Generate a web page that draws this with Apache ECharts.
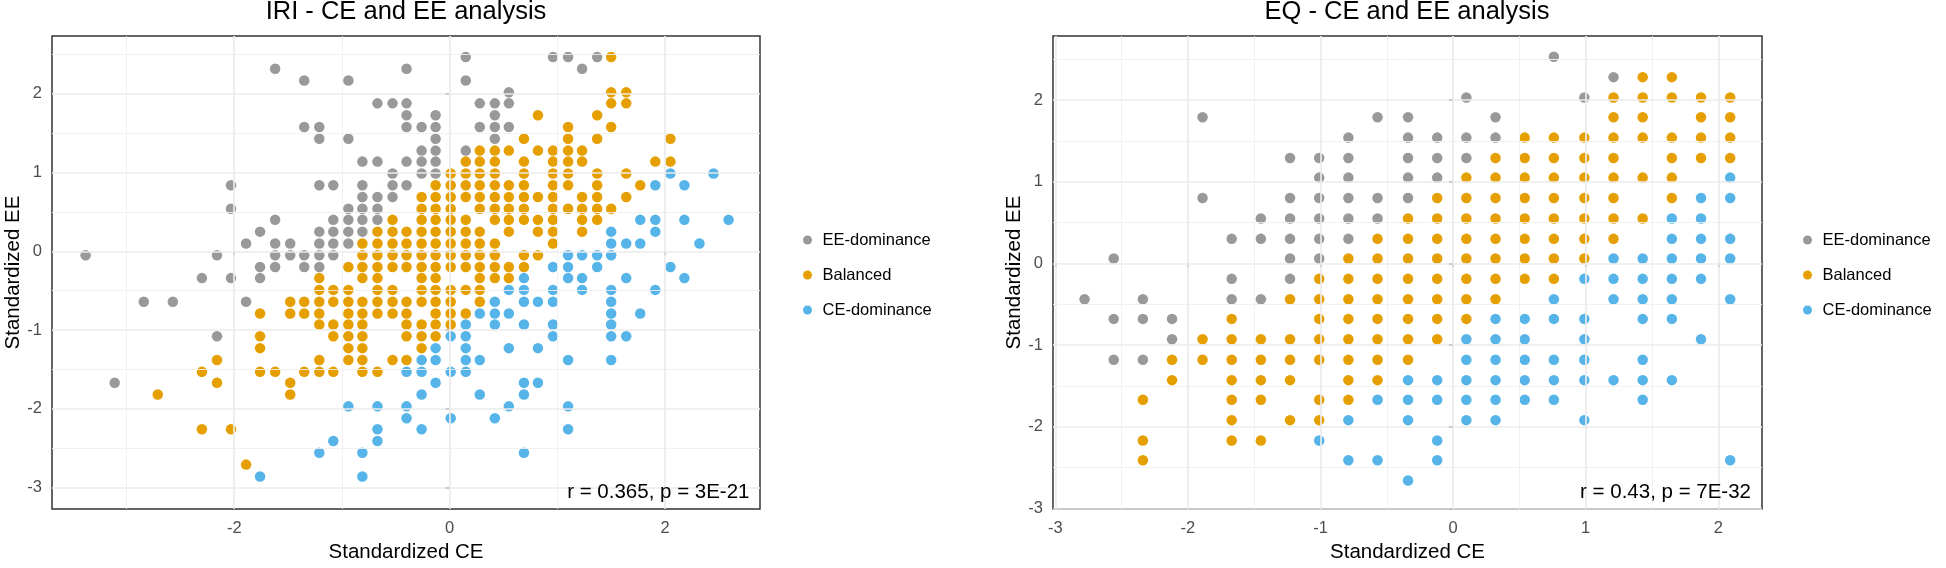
<!DOCTYPE html>
<html><head><meta charset="utf-8">
<script src="https://cdn.jsdelivr.net/npm/echarts@6/dist/echarts.min.js"></script>
<style>html,body{margin:0;padding:0;background:#fff}#c{width:1946px;height:568px}</style>
</head><body><div id="c"></div>
<script>
const FONT = '"Liberation Sans", Arial, Helvetica, sans-serif';
const classNames = ['EE-dominance', 'Balanced', 'CE-dominance'];
const classColors = ['#999999', '#E69F00', '#56B4E9'];
const panelTitles = ['IRI - CE and EE analysis', 'EQ - CE and EE analysis'];
const corrLabels = ['r = 0.365, p = 3E-21', 'r = 0.43, p = 7E-32'];
const xTitle = 'Standardized CE';
const yTitle = 'Standardized EE';

// IRI panel
const iriEE = [
[0.15,2.47],[0.96,2.47],[1.10,2.47],[1.37,2.47],
[-1.62,2.32],[-0.40,2.32],[1.23,2.32],
[-1.35,2.17],[-0.94,2.17],[0.15,2.17],
[0.55,2.02],
[-0.67,1.88],[-0.53,1.88],[-0.40,1.88],[0.28,1.88],[0.42,1.88],[0.55,1.88],
[-0.40,1.73],[-0.13,1.73],[0.42,1.73],
[-1.35,1.58],[-1.21,1.58],[-0.40,1.58],[-0.26,1.58],[-0.13,1.58],[0.28,1.58],[0.42,1.58],[0.55,1.58],
[-1.21,1.43],[-0.94,1.43],[-0.13,1.43],[0.42,1.43],
[-0.26,1.28],[-0.13,1.28],[0.15,1.28],
[-0.81,1.14],[-0.67,1.14],[-0.40,1.14],[-0.26,1.14],[-0.13,1.14],
[-0.53,0.99],[-0.26,0.99],[-0.13,0.99],
[-2.03,0.84],[-1.21,0.84],[-1.08,0.84],[-0.81,0.84],[-0.53,0.84],[-0.40,0.84],
[-0.81,0.69],[-0.67,0.69],[-0.53,0.69],
[-2.03,0.54],[-0.94,0.54],[-0.81,0.54],[-0.67,0.54],
[-1.62,0.40],[-1.08,0.40],[-0.94,0.40],[-0.81,0.40],[-0.67,0.40],
[-1.76,0.25],[-1.21,0.25],[-1.08,0.25],[-0.94,0.25],[-0.81,0.25],
[-1.89,0.10],[-1.62,0.10],[-1.48,0.10],[-1.21,0.10],[-1.08,0.10],[-0.94,0.10],
[-3.38,-0.05],[-2.16,-0.05],[-1.62,-0.05],[-1.48,-0.05],[-1.35,-0.05],[-1.21,-0.05],[-1.08,-0.05],
[-1.76,-0.20],[-1.62,-0.20],[-1.35,-0.20],[-1.21,-0.20],
[-2.30,-0.34],[-2.03,-0.34],[-1.76,-0.34],
[-2.84,-0.64],[-2.57,-0.64],[-1.89,-0.64],
[-2.16,-1.08],
[-3.11,-1.67]
];
const iriBal = [
[1.50,2.47],
[1.50,2.02],[1.64,2.02],
[1.50,1.88],[1.64,1.88],
[0.82,1.73],[1.37,1.73],
[1.10,1.58],[1.50,1.58],
[0.69,1.43],[1.10,1.43],[1.37,1.43],[2.05,1.43],
[0.28,1.28],[0.42,1.28],[0.55,1.28],[0.82,1.28],[0.96,1.28],[1.10,1.28],[1.23,1.28],
[0.15,1.14],[0.28,1.14],[0.42,1.14],[0.69,1.14],[0.96,1.14],[1.10,1.14],[1.23,1.14],[1.91,1.14],[2.05,1.14],
[0.01,0.99],[0.15,0.99],[0.28,0.99],[0.42,0.99],[0.69,0.99],[0.96,0.99],[1.10,0.99],[1.37,0.99],[1.64,0.99],
[-0.13,0.84],[0.01,0.84],[0.15,0.84],[0.28,0.84],[0.42,0.84],[0.55,0.84],[0.69,0.84],[0.96,0.84],[1.10,0.84],[1.37,0.84],[1.77,0.84],
[-0.26,0.69],[-0.13,0.69],[0.01,0.69],[0.15,0.69],[0.28,0.69],[0.42,0.69],[0.55,0.69],[0.69,0.69],[0.82,0.69],[0.96,0.69],[1.23,0.69],[1.37,0.69],[1.64,0.69],
[-0.26,0.54],[-0.13,0.54],[0.01,0.54],[0.28,0.54],[0.42,0.54],[0.55,0.54],[0.69,0.54],[0.96,0.54],[1.10,0.54],[1.23,0.54],[1.37,0.54],[1.50,0.54],
[-0.53,0.40],[-0.26,0.40],[-0.13,0.40],[0.01,0.40],[0.15,0.40],[0.42,0.40],[0.55,0.40],[0.69,0.40],[0.82,0.40],[0.96,0.40],[1.23,0.40],[1.37,0.40],
[-0.67,0.25],[-0.53,0.25],[-0.40,0.25],[-0.26,0.25],[-0.13,0.25],[0.01,0.25],[0.15,0.25],[0.28,0.25],[0.55,0.25],[0.82,0.25],[0.96,0.25],[1.23,0.25],
[-0.81,0.10],[-0.67,0.10],[-0.53,0.10],[-0.40,0.10],[-0.26,0.10],[-0.13,0.10],[0.01,0.10],[0.15,0.10],[0.28,0.10],[0.42,0.10],[0.96,0.10],
[-0.81,-0.05],[-0.67,-0.05],[-0.53,-0.05],[-0.40,-0.05],[-0.26,-0.05],[-0.13,-0.05],[0.01,-0.05],[0.15,-0.05],[0.28,-0.05],[0.42,-0.05],[0.69,-0.05],[0.82,-0.05],
[-0.94,-0.20],[-0.81,-0.20],[-0.67,-0.20],[-0.53,-0.20],[-0.40,-0.20],[-0.26,-0.20],[-0.13,-0.20],[0.01,-0.20],[0.15,-0.20],[0.28,-0.20],[0.42,-0.20],[0.55,-0.20],[0.69,-0.20],
[-1.21,-0.34],[-0.81,-0.34],[-0.67,-0.34],[-0.26,-0.34],[-0.13,-0.34],[0.28,-0.34],[0.42,-0.34],[0.55,-0.34],
[-1.21,-0.49],[-1.08,-0.49],[-0.94,-0.49],[-0.67,-0.49],[-0.53,-0.49],[-0.26,-0.49],[-0.13,-0.49],[0.01,-0.49],[0.15,-0.49],[0.28,-0.49],
[-1.48,-0.64],[-1.35,-0.64],[-1.21,-0.64],[-1.08,-0.64],[-0.94,-0.64],[-0.81,-0.64],[-0.67,-0.64],[-0.53,-0.64],[-0.40,-0.64],[-0.26,-0.64],[-0.13,-0.64],[0.01,-0.64],[0.28,-0.64],
[-1.76,-0.79],[-1.48,-0.79],[-1.35,-0.79],[-1.21,-0.79],[-0.94,-0.79],[-0.81,-0.79],[-0.67,-0.79],[-0.53,-0.79],[-0.40,-0.79],[-0.13,-0.79],[0.01,-0.79],[0.15,-0.79],
[-1.21,-0.93],[-1.08,-0.93],[-0.94,-0.93],[-0.81,-0.93],[-0.40,-0.93],[-0.26,-0.93],[-0.13,-0.93],[0.01,-0.93],
[-1.76,-1.08],[-1.08,-1.08],[-0.94,-1.08],[-0.81,-1.08],[-0.40,-1.08],[-0.26,-1.08],[-0.13,-1.08],
[-1.76,-1.23],[-0.94,-1.23],[-0.81,-1.23],[-0.26,-1.23],
[-2.16,-1.38],[-1.21,-1.38],[-0.94,-1.38],[-0.81,-1.38],[-0.53,-1.38],[-0.40,-1.38],
[-2.30,-1.53],[-1.76,-1.53],[-1.62,-1.53],[-1.35,-1.53],[-1.21,-1.53],[-1.08,-1.53],[-0.81,-1.53],[-0.67,-1.53],
[-2.16,-1.67],[-1.48,-1.67],
[-2.71,-1.82],[-1.48,-1.82],
[-2.30,-2.26],[-2.03,-2.26],
[-1.89,-2.71]
];
const iriCE = [
[2.05,0.99],[2.45,0.99],
[1.91,0.84],[2.18,0.84],
[1.77,0.40],[1.91,0.40],[2.18,0.40],[2.59,0.40],
[1.50,0.25],[1.91,0.25],
[1.50,0.10],[1.64,0.10],[1.77,0.10],[2.32,0.10],
[1.10,-0.05],[1.23,-0.05],[1.37,-0.05],[1.50,-0.05],
[0.96,-0.20],[1.10,-0.20],[1.37,-0.20],[2.05,-0.20],
[0.69,-0.34],[1.10,-0.34],[1.23,-0.34],[1.64,-0.34],[2.18,-0.34],
[0.55,-0.49],[0.69,-0.49],[0.96,-0.49],[1.23,-0.49],[1.50,-0.49],[1.91,-0.49],
[0.42,-0.64],[0.69,-0.64],[0.82,-0.64],[0.96,-0.64],[1.50,-0.64],
[0.28,-0.79],[0.42,-0.79],[0.55,-0.79],[1.50,-0.79],[1.77,-0.79],
[0.15,-0.93],[0.42,-0.93],[0.69,-0.93],[0.96,-0.93],[1.50,-0.93],
[0.01,-1.08],[0.15,-1.08],[0.96,-1.08],[1.50,-1.08],[1.64,-1.08],
[-0.13,-1.23],[0.15,-1.23],[0.55,-1.23],[0.82,-1.23],
[-0.26,-1.38],[-0.13,-1.38],[0.15,-1.38],[0.28,-1.38],[1.10,-1.38],[1.50,-1.38],
[-0.40,-1.53],[-0.26,-1.53],[0.01,-1.53],[0.15,-1.53],
[-0.13,-1.67],[0.69,-1.67],[0.82,-1.67],
[-0.26,-1.82],[0.28,-1.82],[0.69,-1.82],
[-0.94,-1.97],[-0.67,-1.97],[-0.40,-1.97],[0.55,-1.97],[1.10,-1.97],
[-0.40,-2.12],[0.01,-2.12],[0.42,-2.12],
[-0.67,-2.26],[-0.26,-2.26],[1.10,-2.26],
[-1.08,-2.41],[-0.67,-2.41],
[-1.21,-2.56],[-0.81,-2.56],[0.69,-2.56],
[-1.76,-2.86],[-0.81,-2.86]
];

// EQ panel
const eqEE = [
[0.76,2.53],
[1.21,2.28],
[0.10,2.03],[0.99,2.03],
[-1.89,1.79],[-0.57,1.79],[-0.34,1.79],[0.32,1.79],
[-0.79,1.54],[-0.34,1.54],[-0.12,1.54],[0.10,1.54],[0.32,1.54],
[-1.23,1.29],[-1.01,1.29],[-0.79,1.29],[-0.34,1.29],[-0.12,1.29],[0.10,1.29],
[-1.01,1.05],[-0.79,1.05],[-0.34,1.05],[-0.12,1.05],
[-1.89,0.80],[-1.23,0.80],[-1.01,0.80],[-0.79,0.80],[-0.57,0.80],[-0.34,0.80],
[-1.45,0.55],[-1.23,0.55],[-1.01,0.55],[-0.79,0.55],[-0.57,0.55],
[-1.67,0.30],[-1.45,0.30],[-1.23,0.30],[-1.01,0.30],[-0.79,0.30],
[-2.56,0.06],[-1.23,0.06],[-1.01,0.06],
[-1.67,-0.19],[-1.23,-0.19],
[-2.78,-0.44],[-2.34,-0.44],[-1.67,-0.44],[-1.45,-0.44],
[-2.56,-0.68],[-2.34,-0.68],[-2.12,-0.68],
[-2.12,-0.93],
[-2.56,-1.18],[-2.34,-1.18]
];
const eqBal = [
[1.43,2.28],[1.65,2.28],
[1.21,2.03],[1.43,2.03],[1.65,2.03],[1.87,2.03],[2.09,2.03],
[1.21,1.79],[1.43,1.79],[1.87,1.79],[2.09,1.79],
[0.54,1.54],[0.76,1.54],[0.99,1.54],[1.21,1.54],[1.43,1.54],[1.65,1.54],[1.87,1.54],[2.09,1.54],
[0.32,1.29],[0.54,1.29],[0.76,1.29],[0.99,1.29],[1.21,1.29],[1.65,1.29],[1.87,1.29],[2.09,1.29],
[0.10,1.05],[0.32,1.05],[0.54,1.05],[0.76,1.05],[0.99,1.05],[1.21,1.05],[1.43,1.05],[1.65,1.05],
[-0.12,0.80],[0.10,0.80],[0.32,0.80],[0.54,0.80],[0.76,0.80],[0.99,0.80],[1.21,0.80],[1.65,0.80],
[-0.34,0.55],[-0.12,0.55],[0.10,0.55],[0.32,0.55],[0.54,0.55],[0.76,0.55],[0.99,0.55],[1.21,0.55],[1.43,0.55],
[-0.57,0.30],[-0.34,0.30],[-0.12,0.30],[0.10,0.30],[0.32,0.30],[0.54,0.30],[0.76,0.30],[0.99,0.30],[1.21,0.30],
[-0.79,0.06],[-0.57,0.06],[-0.34,0.06],[-0.12,0.06],[0.10,0.06],[0.32,0.06],[0.54,0.06],[0.76,0.06],[0.99,0.06],
[-1.01,-0.19],[-0.79,-0.19],[-0.57,-0.19],[-0.34,-0.19],[-0.12,-0.19],[0.10,-0.19],[0.32,-0.19],[0.54,-0.19],[0.76,-0.19],
[-1.23,-0.44],[-1.01,-0.44],[-0.79,-0.44],[-0.57,-0.44],[-0.34,-0.44],[-0.12,-0.44],[0.10,-0.44],[0.32,-0.44],
[-1.67,-0.68],[-1.01,-0.68],[-0.79,-0.68],[-0.57,-0.68],[-0.34,-0.68],[-0.12,-0.68],[0.10,-0.68],
[-1.89,-0.93],[-1.67,-0.93],[-1.45,-0.93],[-1.23,-0.93],[-1.01,-0.93],[-0.79,-0.93],[-0.57,-0.93],[-0.34,-0.93],[-0.12,-0.93],
[-2.12,-1.18],[-1.89,-1.18],[-1.67,-1.18],[-1.45,-1.18],[-1.23,-1.18],[-1.01,-1.18],[-0.79,-1.18],[-0.57,-1.18],[-0.34,-1.18],
[-2.12,-1.43],[-1.67,-1.43],[-1.45,-1.43],[-1.23,-1.43],[-0.79,-1.43],[-0.57,-1.43],
[-2.34,-1.67],[-1.67,-1.67],[-1.45,-1.67],[-1.01,-1.67],[-0.79,-1.67],
[-1.67,-1.92],[-1.23,-1.92],[-1.01,-1.92],
[-2.34,-2.17],[-1.67,-2.17],[-1.45,-2.17],
[-2.34,-2.41]
];
const eqCE = [
[2.09,1.05],
[1.87,0.80],[2.09,0.80],
[1.65,0.55],[1.87,0.55],
[1.65,0.30],[1.87,0.30],[2.09,0.30],
[1.21,0.06],[1.43,0.06],[1.65,0.06],[1.87,0.06],[2.09,0.06],
[0.99,-0.19],[1.21,-0.19],[1.43,-0.19],[1.65,-0.19],[1.87,-0.19],
[0.76,-0.44],[1.21,-0.44],[1.43,-0.44],[1.65,-0.44],[2.09,-0.44],
[0.32,-0.68],[0.54,-0.68],[0.76,-0.68],[0.99,-0.68],[1.43,-0.68],[1.65,-0.68],
[0.10,-0.93],[0.32,-0.93],[0.54,-0.93],[0.99,-0.93],[1.87,-0.93],
[0.10,-1.18],[0.32,-1.18],[0.54,-1.18],[0.76,-1.18],[0.99,-1.18],[1.43,-1.18],
[-0.34,-1.43],[-0.12,-1.43],[0.10,-1.43],[0.32,-1.43],[0.54,-1.43],[0.76,-1.43],[0.99,-1.43],[1.21,-1.43],[1.43,-1.43],[1.65,-1.43],
[-0.57,-1.67],[-0.34,-1.67],[-0.12,-1.67],[0.10,-1.67],[0.32,-1.67],[0.54,-1.67],[0.76,-1.67],[1.43,-1.67],
[-0.79,-1.92],[-0.34,-1.92],[0.10,-1.92],[0.32,-1.92],[0.99,-1.92],
[-1.01,-2.17],[-0.12,-2.17],
[-0.79,-2.41],[-0.57,-2.41],[-0.12,-2.41],[2.09,-2.41],
[-0.34,-2.66]
];

// axis breaks
const iriXTicks = [-2, 0, 2];
const iriXMinor = [-3, -1, 1];
const iriYTicks = [-3, -2, -1, 0, 1, 2];
const iriYMinor = [-2.5, -1.5, -0.5, 0.5, 1.5, 2.5];
const eqXTicks = [-3, -2, -1, 0, 1, 2];
const eqXMinor = [-2.5, -1.5, -0.5, 0.5, 1.5];
const eqYTicks = [-3, -2, -1, 0, 1, 2];
const eqYMinor = [-2.5, -1.5, -0.5, 0.5, 1.5, 2.5];
const iriXLim = [-3.692, 2.882];
const iriYLim = [-3.274, 2.736];
const eqXLim = [-3.018, 2.33];
const eqYLim = [-3.008, 2.784];

const MAJOR = {color: '#EBEBEB', width: 1.7, type: 'solid'};
const MINOR = {color: '#EFEFEF', width: 0.9, type: 'solid'};

function gridLineData(xMaj, xMin, yMaj, yMin) {
  const d = [];
  xMin.forEach(v => d.push({xAxis: v, lineStyle: MINOR}));
  yMin.forEach(v => d.push({yAxis: v, lineStyle: MINOR}));
  xMaj.forEach(v => d.push({xAxis: v, lineStyle: MAJOR}));
  yMaj.forEach(v => d.push({yAxis: v, lineStyle: MAJOR}));
  return d;
}

function xAxisCfg(gi, lim, ticks, splitNumber) {
  return {
    type: 'value', gridIndex: gi, min: lim[0], max: lim[1], splitNumber: splitNumber,
    splitLine: {show: false}, minorSplitLine: {show: false},
    axisLine: {show: false},
    axisTick: {show: true, inside: false, length: 4, lineStyle: {color: '#333333', width: 1.5}, customValues: ticks},
    axisLabel: {customValues: ticks, color: '#4D4D4D', fontSize: 16.5, fontFamily: FONT, margin: 11},
    name: xTitle, nameLocation: 'middle', nameGap: 33,
    nameTextStyle: {color: '#000', fontSize: 20.5, fontFamily: FONT}
  };
}
function yAxisCfg(gi, lim, ticks, splitNumber) {
  return {
    type: 'value', gridIndex: gi, min: lim[0], max: lim[1], splitNumber: splitNumber,
    splitLine: {show: false}, minorSplitLine: {show: false},
    axisLine: {show: false},
    axisTick: {show: true, inside: false, length: 4, lineStyle: {color: '#333333', width: 1.5}, customValues: ticks},
    axisLabel: {customValues: ticks, color: '#4D4D4D', fontSize: 16.5, fontFamily: FONT, margin: 10},
    name: yTitle, nameLocation: 'middle', nameGap: 27, nameRotate: 90,
    nameTextStyle: {color: '#000', fontSize: 20.5, fontFamily: FONT}
  };
}

function scatter(name, color, data, gi) {
  return {
    type: 'scatter', name: name, xAxisIndex: gi, yAxisIndex: gi, data: data,
    symbol: 'circle', symbolSize: 10.5, z: 3,
    itemStyle: {color: color, opacity: 1},
    emphasis: {disabled: true}, silent: true
  };
}
function gridSeries(gi, lines) {
  return {
    type: 'scatter', name: 'grid' + gi, xAxisIndex: gi, yAxisIndex: gi, data: [], z: 1, silent: true,
    markLine: {silent: true, symbol: ['none', 'none'], label: {show: false}, emphasis: {disabled: true},
      animation: false, data: lines}
  };
}

const panelSets = [[iriEE, iriBal, iriCE], [eqEE, eqBal, eqCE]];
const series = [
  gridSeries(0, gridLineData(iriXTicks, iriXMinor, iriYTicks, iriYMinor)),
  gridSeries(1, gridLineData(eqXTicks, eqXMinor, eqYTicks, eqYMinor))
];
panelSets.forEach((sets, gi) => {
  sets.forEach((d, i) => series.push(scatter(classNames[i], classColors[i], d, gi)));
});

function legendCfg(left) {
  return {
    data: classNames, orient: 'vertical', left: left, top: 225,
    icon: 'circle', itemWidth: 20, itemHeight: 9, itemGap: 15,
    textStyle: {color: '#000', fontSize: 16.5, fontFamily: FONT, lineHeight: 20},
    selectedMode: false
  };
}

function textEl(x, y, text, size, align) {
  return {type: 'text', x: x, y: y, z: 100, silent: true,
    style: {text: text, font: size + 'px ' + FONT, fill: '#000',
      align: align, verticalAlign: 'middle', textAlign: align, textVerticalAlign: 'middle'}};
}

const chart = echarts.init(document.getElementById('c'), null, {renderer: 'canvas'});
chart.setOption({
  backgroundColor: '#ffffff',
  animation: false,
  textStyle: {fontFamily: FONT},
  grid: [
    {left: 52, top: 36, width: 708, height: 476, show: true, borderColor: '#333333', borderWidth: 1.5, backgroundColor: 'transparent'},
    {left: 1053, top: 36, width: 709, height: 475, show: true, borderColor: '#333333', borderWidth: 1.5, backgroundColor: 'transparent'}
  ],
  xAxis: [xAxisCfg(0, iriXLim, iriXTicks, 3), xAxisCfg(1, eqXLim, eqXTicks, 5)],
  yAxis: [yAxisCfg(0, iriYLim, iriYTicks, 6), yAxisCfg(1, eqYLim, eqYTicks, 6)],
  legend: [legendCfg(798), legendCfg(1798)],
  graphic: [
    textEl(406, 12, panelTitles[0], 25.5, 'center'),
    textEl(1407, 12, panelTitles[1], 25.5, 'center'),
    textEl(749.5, 492, corrLabels[0], 20.5, 'right'),
    textEl(1751, 492, corrLabels[1], 20.5, 'right')
  ],
  series: series
});
</script>
</body></html>
